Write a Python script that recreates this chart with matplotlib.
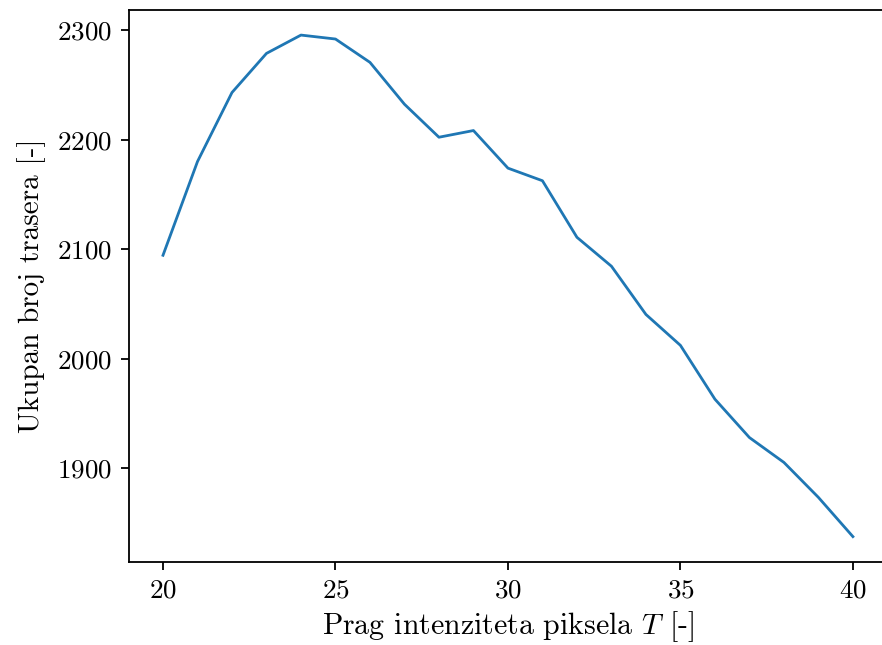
import matplotlib
matplotlib.use("Agg")
import matplotlib.pyplot as plt
import numpy as np

# prag intenziteta i ukupan broj trasera
prag = np.arange(20, 41)
broj_trasera = [2094.5, 2180, 2243, 2278.7, 2295.4, 2291.8, 2270.5, 2232.3,
                2202.2, 2208.3, 2174, 2162.5, 2110.9, 2084.5, 2040.5, 2012.3,
                1963.2, 1928.2, 1905.5, 1873.6, 1837.8]

plt.rcParams['font.family'] = ['cmr10', 'DejaVu Sans']
plt.rcParams['mathtext.fontset'] = 'cm'
plt.rcParams['axes.formatter.use_mathtext'] = True
plt.rcParams['axes.unicode_minus'] = False

fig = plt.figure(figsize=(8.82, 6.45), dpi=100)
# desna strana osi je odrezana kao na originalu
ax = fig.add_axes([128.5/882, 1 - 561.7/645, (887.4 - 128.5)/882, (561.7 - 10)/645])
ax.plot(prag, broj_trasera, color='#1f77b4', linewidth=2.0)

ax.set_xticks([20, 25, 30, 35, 40])
ax.set_yticks([1900, 2000, 2100, 2200, 2300])
ax.set_xlabel("Prag intenziteta piksela $T$ [-]", fontsize=21.5, labelpad=5)
ax.set_ylabel("Ukupan broj trasera [-]", fontsize=21, labelpad=8)
ax.tick_params(labelsize=19.5, length=6, width=1.3, pad=6)
for s in ax.spines.values():
    s.set_linewidth(1.3)

fig.savefig("out.png", dpi=100)
